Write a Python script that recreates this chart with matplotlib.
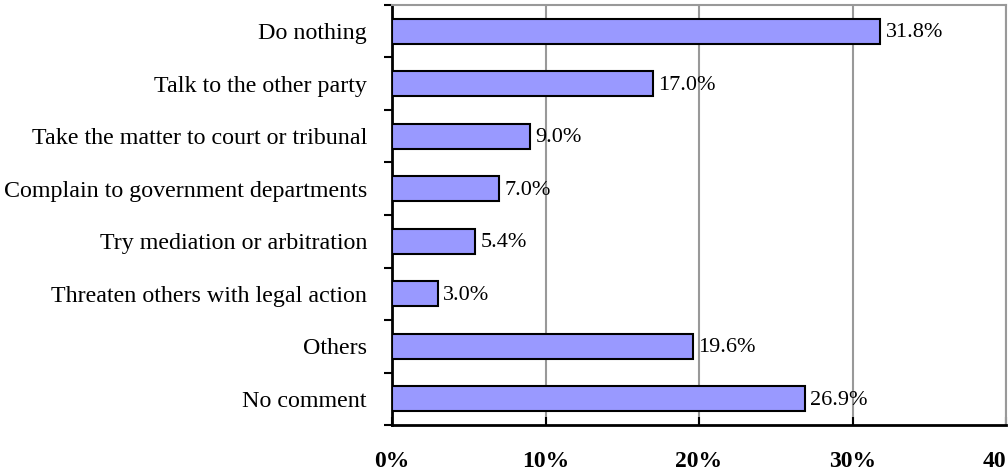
import matplotlib
matplotlib.use("Agg")
import matplotlib.pyplot as plt
import numpy as np

categories = ["Do nothing", "Talk to the other party", "Take the matter to court or tribunal",
              "Complain to government departments", "Try mediation or arbitration",
              "Threaten others with legal action", "Others", "No comment"]
values = [31.8, 17.0, 9.0, 7.0, 5.4, 3.0, 19.6, 26.9]
xticks = [0, 10, 20, 30, 40]
xticklabels = ["0%", "10%", "20%", "30%", "40%"]

plt.rcParams['font.family'] = ['Liberation Serif', 'DejaVu Serif']

fig = plt.figure(figsize=(10.08, 4.73), dpi=100)
ax = fig.add_axes([392/1008, 1 - 425/473, (1006-392)/1008, (425-5)/473])

n = len(categories)
y = np.arange(n)
ax.barh(y, values, height=0.48, color="#9999FF", edgecolor="black", linewidth=1.5, zorder=3)
for yi, v in zip(y, values):
    ax.text(v + 0.35, yi + 0.03, f"{v:.1f}%", va="center", ha="left", fontsize=16, zorder=4)

ax.set_xlim(0, 40)
ax.set_ylim(n - 0.5, -0.5)
ax.set_xticks(xticks)
ax.set_xticklabels(xticklabels, fontsize=17, fontweight="bold")
ax.tick_params(axis="x", direction="in", length=6, width=1.5, pad=19)
ax.set_yticks(y)
ax.set_yticklabels(categories, fontsize=17.3)
ax.tick_params(axis="y", length=0, pad=18)
ax.set_yticks(np.arange(n + 1) - 0.5, minor=True)
ax.tick_params(axis="y", which="minor", direction="out", length=6, width=1.5)

ax.grid(axis="x", color="#999999", linewidth=1.5, zorder=0)
for s in ["top", "right"]:
    ax.spines[s].set_color("#999999")
    ax.spines[s].set_linewidth(1.5)
for s in ["left", "bottom"]:
    ax.spines[s].set_color("black")
    ax.spines[s].set_linewidth(2)

fig.savefig("out.png", dpi=100)
